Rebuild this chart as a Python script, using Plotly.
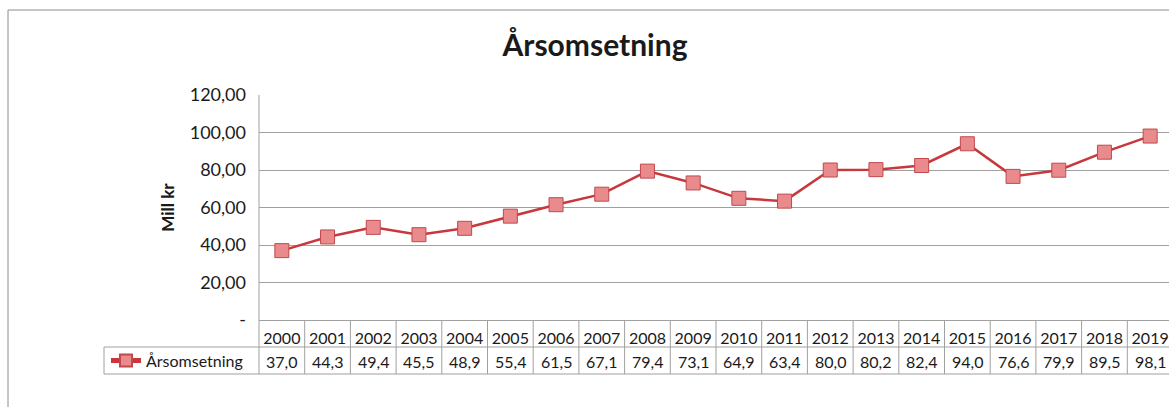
import plotly.graph_objects as go

years = ["2000", "2001", "2002", "2003", "2004", "2005", "2006", "2007", "2008", "2009",
         "2010", "2011", "2012", "2013", "2014", "2015", "2016", "2017", "2018", "2019"]
values = [37.0, 44.3, 49.4, 45.5, 48.9, 55.4, 61.5, 67.1, 79.4, 73.1,
          64.9, 63.4, 80.0, 80.2, 82.4, 94.0, 76.6, 79.9, 89.5, 98.1]
series_name = "Årsomsetning"
y_ticks = [0, 20, 40, 60, 80, 100, 120]
y_ticktext = ["-", "20,00", "40,00", "60,00", "80,00", "100,00", "120,00"]

FONT = "Lato"
GRID = "#a0a0a0"
W, H = 1169, 407
ML, MT, MB, MR = 259, 95, 87, 0
PW = W - ML - MR
PH = H - MT - MB


def px_x(px):
    return (px - ML) / PW


def px_y(py):
    return (H - MB - py) / PH


xs = list(range(len(years)))

fig = go.Figure()
fig.add_trace(go.Scatter(
    x=xs, y=values, mode="lines+markers", name=series_name,
    line=dict(color="#c8373c", width=2.5),
    marker=dict(symbol="square", size=14, color="#e98a8d",
                line=dict(color="#c0494d", width=1)),
    cliponaxis=False,
))

shapes = []
# chart outer border
shapes.append(dict(type="rect", xref="paper", yref="paper",
                   x0=px_x(8), x1=px_x(1200), y0=px_y(420), y1=px_y(10),
                   line=dict(color="#8c8c8c", width=1), layer="below"))
# plot left border extended into header/values rows
shapes.append(dict(type="line", xref="paper", yref="paper",
                   x0=0, x1=0, y0=px_y(374), y1=1,
                   line=dict(color=GRID, width=1)))
# table horizontal lines
for py, x0 in [(347, px_x(104)), (374, px_x(104))]:
    shapes.append(dict(type="line", xref="paper", yref="paper",
                       x0=x0, x1=1.05, y0=px_y(py), y1=px_y(py),
                       line=dict(color=GRID, width=1)))
# legend cell left border
shapes.append(dict(type="line", xref="paper", yref="paper",
                   x0=px_x(104), x1=px_x(104), y0=px_y(374), y1=px_y(347),
                   line=dict(color=GRID, width=1)))
# table vertical lines between columns
for i in range(1, len(years) + 1):
    shapes.append(dict(type="line", xref="x", yref="paper",
                       x0=i - 0.5, x1=i - 0.5, y0=px_y(374), y1=0,
                       line=dict(color=GRID, width=1)))

annotations = []
for i, v in enumerate(values):
    annotations.append(dict(xref="x", yref="paper", x=i, y=px_y(361),
                            text=f"{v:.1f}".replace(".", ","), showarrow=False,
                            font=dict(family=FONT, size=16, color="#1a1a1a"),
                            yanchor="middle"))

fig.update_layout(
    width=W, height=H,
    margin=dict(l=ML, r=MR, t=MT, b=MB),
    paper_bgcolor="white", plot_bgcolor="white",
    title=dict(text="<b>Årsomsetning</b>", x=595 / W, xanchor="center",
               y=1 - 45 / H, yanchor="middle",
               font=dict(family=FONT, size=30, color="#1a1a1a")),
    font=dict(family=FONT, size=16, color="#1a1a1a"),
    showlegend=True,
    legend=dict(x=px_x(106), y=px_y(360.5), xanchor="left", yanchor="middle",
                bgcolor="rgba(0,0,0,0)", font=dict(family=FONT, size=16),
                itemsizing="constant", tracegroupgap=0),
    xaxis=dict(range=[-0.5, -0.5 + PW / 45.7], tickmode="array", tickvals=xs,
               ticktext=years, showgrid=False, zeroline=False, showline=True,
               linecolor=GRID, ticks="", ticklabelstandoff=4,
               tickfont=dict(family=FONT, size=16, color="#1a1a1a")),
    yaxis=dict(range=[0, 120], tickmode="array", tickvals=y_ticks, ticktext=y_ticktext,
               showgrid=True, gridcolor=GRID, gridwidth=1, zeroline=False,
               showline=False, ticks="", ticklabelstandoff=12,
               tickfont=dict(family=FONT, size=18, color="#1a1a1a"),
               title=dict(text="<b>Mill kr</b>", standoff=10,
                          font=dict(family=FONT, size=17, color="#1a1a1a"))),
    shapes=shapes,
    annotations=annotations,
)

fig.write_html("out.html", config={"displayModeBar": False},
               post_script="document.body.style.margin='0';document.body.style.overflow='hidden';")
